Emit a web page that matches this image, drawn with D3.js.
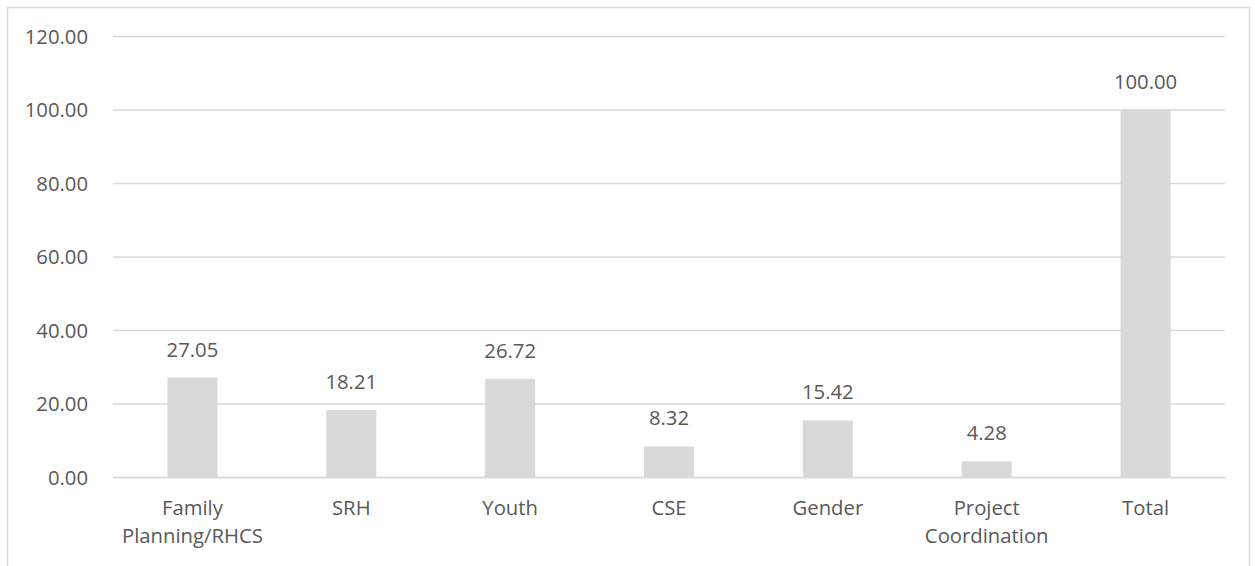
<!DOCTYPE html>
<html>
<head>
<meta charset="utf-8">
<script src="https://cdn.jsdelivr.net/npm/d3@7"></script>
<style>
  html, body { margin: 0; padding: 0; background: #fff; }
  svg { display: block; }
  text { font-family: "Open Sans", sans-serif; fill: #595959; }
</style>
</head>
<body>
<svg id="chart" width="1255" height="566"></svg>
<script>
const categories = [["Family", "Planning/RHCS"], ["SRH"], ["Youth"], ["CSE"], ["Gender"], ["Project", "Coordination"], ["Total"]];
const values = [27.05, 18.21, 26.72, 8.32, 15.42, 4.28, 100.00];
const yTicks = [0, 20, 40, 60, 80, 100, 120];

const svg = d3.select("#chart");
const W = 1255, H = 566;
const margin = { left: 113, right: 30, top: 36, bottom: 89 };
const FS = "20.3px";

// outer chart border
svg.append("rect")
  .attr("x", 7.5).attr("y", 7.5)
  .attr("width", 1242).attr("height", 600)
  .attr("fill", "none").attr("stroke", "#d9d9d9").attr("stroke-width", 1.5);

const keys = categories.map((c, i) => "c" + i);
const x = d3.scaleBand().domain(keys).range([margin.left, W - margin.right]).paddingInner(0.685).paddingOuter(0.3425);
const y = d3.scaleLinear().domain([0, 120]).range([H - margin.bottom, margin.top]);

// gridlines
const grid = svg.append("g").attr("transform", `translate(${margin.left},0)`)
  .call(d3.axisLeft(y).tickValues(yTicks).tickSize(-(W - margin.left - margin.right)).tickFormat(""));
grid.select(".domain").remove();
grid.selectAll(".tick line").attr("stroke", "#d9d9d9").attr("stroke-width", 1.5);

// y axis labels
const yAxis = svg.append("g").attr("transform", `translate(${margin.left - 25},0)`)
  .call(d3.axisLeft(y).tickValues(yTicks).tickSize(0).tickPadding(0).tickFormat(d3.format(".2f")));
yAxis.select(".domain").remove();
yAxis.selectAll("text").style("font-size", FS).attr("fill", "#595959").attr("dy", "0.35em");

// bars
svg.append("g").selectAll("rect").data(values).join("rect")
  .attr("x", (d, i) => x(keys[i]))
  .attr("y", d => y(d))
  .attr("width", x.bandwidth())
  .attr("height", d => y(0) - y(d))
  .attr("fill", "#d9d9d9");

// data labels
svg.append("g").selectAll("text").data(values).join("text")
  .attr("x", (d, i) => x(keys[i]) + x.bandwidth() / 2)
  .attr("y", d => y(d) - 21)
  .attr("text-anchor", "middle")
  .style("font-size", FS)
  .text(d => d3.format(".2f")(d));

// x axis labels
const xAxis = svg.append("g").attr("transform", `translate(0,${y(0)})`)
  .call(d3.axisBottom(x).tickSize(0).tickFormat(""));
xAxis.select(".domain").attr("stroke", "#d9d9d9").attr("stroke-width", 1.5);
xAxis.selectAll(".tick").each(function(k, i) {
  const t = d3.select(this).append("text")
    .attr("text-anchor", "middle")
    .attr("y", 38)
    .style("font-size", FS)
    .attr("fill", "#595959");
  categories[i].forEach((line, j) => {
    t.append("tspan").attr("x", 0).attr("dy", j === 0 ? 0 : 28).text(line);
  });
});
</script>
</body>
</html>
